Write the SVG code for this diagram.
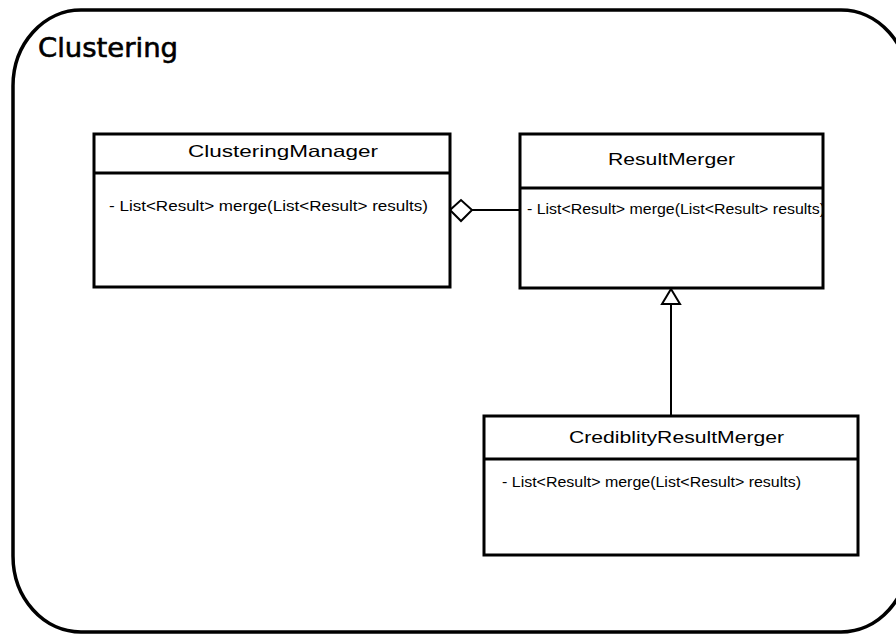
<svg xmlns="http://www.w3.org/2000/svg" width="896" height="635" viewBox="0 0 896 635">
  <style>
    .frame { fill: #fff; stroke: #000; stroke-width: 3.5; }
    .box { fill: #fff; stroke: #000; stroke-width: 3; }
    .div { stroke: #000; stroke-width: 3; }
    .edge { fill: none; stroke: #000; stroke-width: 2; }
    .title { font-family: "DejaVu Sans", Verdana, sans-serif; font-size: 27px; fill: #000; stroke: #000; stroke-width: 0.6; }
    .cname { font-family: "Liberation Sans", Arial, sans-serif; font-size: 16.5px; fill: #000; }
    .member { font-family: "Liberation Sans", Arial, sans-serif; font-size: 14px; fill: #000; }
  </style>
  <defs>
    <clipPath id="clipResult">
      <rect x="521" y="190" width="301" height="97"/>
    </clipPath>
  </defs>
  <rect width="896" height="635" fill="#fff"/>

  <!-- package frame (right side runs past the canvas edge) -->
  <g id="package">
    <rect class="frame" x="13" y="10" width="896" height="622" rx="68" ry="76"/>
    <text class="title" x="38" y="57" textLength="140" lengthAdjust="spacingAndGlyphs">Clustering</text>
  </g>

  <!-- connectors -->
  <g id="connectors">
    <!-- aggregation: ClusteringManager <>— ResultMerger -->
    <line class="edge" x1="472" y1="210" x2="520" y2="210"/>
    <polygon class="edge" points="450,210 461,200 472,210 461,221" fill="#fff"/>
    <!-- generalization: CrediblityResultMerger —|> ResultMerger -->
    <line class="edge" x1="671" y1="416" x2="671" y2="304"/>
    <polygon class="edge" points="671,289 680,304 662,304" fill="#fff"/>
  </g>

  <g id="ClusteringManager">
    <rect class="box" x="94" y="134" width="356" height="153"/>
    <line class="div" x1="95" y1="173" x2="449" y2="173"/>
    <text class="cname" x="188" y="157" textLength="190" lengthAdjust="spacingAndGlyphs">ClusteringManager</text>
    <text class="member" x="109" y="211" textLength="319" lengthAdjust="spacingAndGlyphs">- List&lt;Result&gt; merge(List&lt;Result&gt; results)</text>
  </g>

  <g id="ResultMerger">
    <rect class="box" x="520" y="134" width="303" height="154"/>
    <line class="div" x1="520" y1="188" x2="823" y2="188"/>
    <text class="cname" x="608" y="165" textLength="127" lengthAdjust="spacingAndGlyphs">ResultMerger</text>
    <text class="member" x="527" y="214" textLength="298" lengthAdjust="spacingAndGlyphs" clip-path="url(#clipResult)">- List&lt;Result&gt; merge(List&lt;Result&gt; results)</text>
  </g>

  <g id="CrediblityResultMerger">
    <rect class="box" x="484" y="416" width="374" height="139"/>
    <line class="div" x1="485" y1="459" x2="857" y2="459"/>
    <text class="cname" x="569" y="443" textLength="215" lengthAdjust="spacingAndGlyphs">CrediblityResultMerger</text>
    <text class="member" x="502" y="487" textLength="299" lengthAdjust="spacingAndGlyphs">- List&lt;Result&gt; merge(List&lt;Result&gt; results)</text>
  </g>
</svg>
